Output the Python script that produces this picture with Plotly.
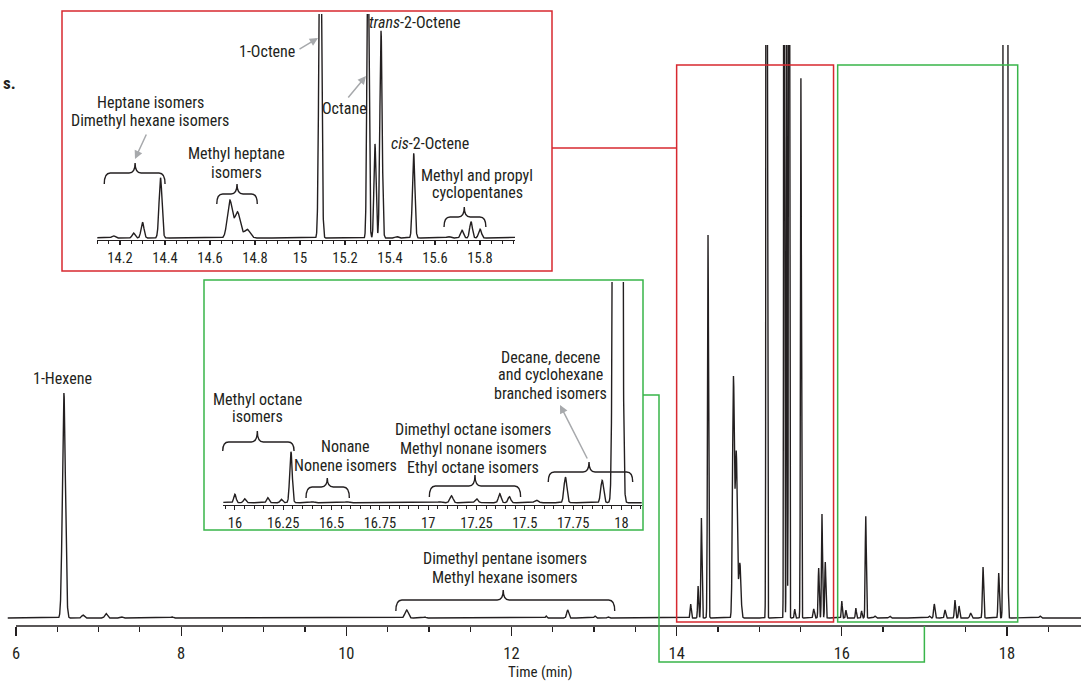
import numpy as np
import plotly.graph_objects as go

# ---------------- data ----------------
# retention time (min), peak height (main-chart intensity units), peak sigma (min)
peak_time = [6.58, 6.81, 7.09, 7.28, 7.89, 10.73, 10.95, 12.42, 12.68, 13.01, 13.17,
             14.17, 14.26, 14.30, 14.38, 14.688, 14.722, 14.765,
             15.09, 15.302, 15.333, 15.360, 15.43, 15.505,
             15.66, 15.72, 15.76, 15.80,
             16.00, 16.05, 16.17, 16.24, 16.29, 16.40, 16.58,
             17.06, 17.12, 17.25, 17.37, 17.42, 17.56,
             17.71, 17.90, 17.98, 18.40]
peak_height = [225, 3, 4.5, 1.2, 1.2, 8, 1, 2, 8, 2, 1.2,
               14, 32, 100, 383, 239, 165, 55,
               2500, 2000, 600, 1320, 9, 540,
               9, 50, 104, 56,
               17, 8, 10, 7, 102, 2, 2,
               2, 14, 8, 18, 12, 5,
               51, 45, 20000, 2]
peak_sigma = [0.018, 0.015, 0.015, 0.012, 0.012, 0.02, 0.012, 0.008, 0.012, 0.01, 0.01,
              0.007, 0.006, 0.0065, 0.0065, 0.011, 0.012, 0.013,
              0.0055, 0.0045, 0.0045, 0.005, 0.006, 0.0055,
              0.008, 0.0065, 0.006, 0.0065,
              0.006, 0.006, 0.006, 0.006, 0.0065, 0.01, 0.01,
              0.01, 0.008, 0.008, 0.007, 0.007, 0.01,
              0.0075, 0.0075, 0.0103, 0.01]

main_ticks = [6, 8, 10, 12, 14, 16, 18]

# ---------------- geometry ----------------
W, H = 1081, 686
BOT = 626  # pixel row of the paper bottom (main x axis)
INK = '#231f20'
RED = '#d7282f'
GREEN = '#39b54a'
GRAY = '#a7a9ac'
FONT = "Liberation Sans Narrow, Roboto Condensed, Liberation Sans, Arial Narrow, sans-serif"


def pxx(x):
    return x / W


def pxy(y):
    return (BOT - y) / BOT


# main axis: 6 min at x=16 px, 82.58 px per min
M_PPM, M_X6 = 82.58, 16.0
main_range = [6 - M_X6 / M_PPM, 6 + (W - M_X6) / M_PPM]
# red inset axis
R_X0, R_X1, R_T0, R_PPM = 97.3, 515.0, 14.099, 225.0
red_range = [R_T0, R_T0 + (R_X1 - R_X0) / R_PPM]
# green inset axis
G_X0, G_X1, G_T0, G_PPM = 223.3, 641.7, 15.94, 193.3
green_range = [G_T0, G_T0 + (G_X1 - G_X0) / G_PPM]


def main_x(t):
    return M_X6 + (t - 6) * M_PPM


def red_x(t):
    return R_X0 + (t - R_T0) * R_PPM


def green_x(t):
    return G_X0 + (t - G_T0) * G_PPM


def signal(t):
    y = np.zeros_like(t)
    for c, h, s in zip(peak_time, peak_height, peak_sigma):
        y += h * np.exp(-0.5 * ((t - c) / s) ** 2)
    return y


t_main = np.arange(5.90, 18.90, 0.0008)
t_red = np.arange(14.05, 16.0, 0.0004)
t_green = np.arange(15.90, 18.15, 0.0004)

fig = go.Figure()
line = dict(color=INK, width=1.4)
fig.add_trace(go.Scatter(x=np.round(t_main, 4), y=np.round(signal(t_main), 3), mode='lines',
                         line=line, xaxis='x', yaxis='y', hoverinfo='skip'))
fig.add_trace(go.Scatter(x=np.round(t_red, 4), y=np.round(signal(t_red), 3), mode='lines',
                         line=line, xaxis='x2', yaxis='y2', hoverinfo='skip'))
fig.add_trace(go.Scatter(x=np.round(t_green, 4), y=np.round(signal(t_green), 3), mode='lines',
                         line=line, xaxis='x3', yaxis='y3', hoverinfo='skip'))

shapes = []


def brace(x0, x1, xm, ytop, yend, ytip, r=6):
    pts = [(x0, yend), (x0, ytop), (x0 + r, ytop), (xm - r, ytop), (xm, ytop), (xm, ytip),
           (xm, ytop), (xm + r, ytop), (x1 - r, ytop), (x1, ytop), (x1, yend)]
    p = [(pxx(a), pxy(b)) for a, b in pts]
    path = (f"M {p[0][0]},{p[0][1]} Q {p[1][0]},{p[1][1]} {p[2][0]},{p[2][1]} "
            f"L {p[3][0]},{p[3][1]} Q {p[4][0]},{p[4][1]} {p[5][0]},{p[5][1]} "
            f"Q {p[6][0]},{p[6][1]} {p[7][0]},{p[7][1]} L {p[8][0]},{p[8][1]} "
            f"Q {p[9][0]},{p[9][1]} {p[10][0]},{p[10][1]}")
    shapes.append(dict(type='path', path=path, xref='paper', yref='paper',
                       line=dict(color=INK, width=1.4)))


def rect_px(x0, y0, x1, y1, color):
    shapes.append(dict(type='rect', xref='paper', yref='paper', x0=pxx(x0), x1=pxx(x1),
                       y0=pxy(y1), y1=pxy(y0), line=dict(color=color, width=1.5)))


def poly_px(points, color):
    path = "M " + " L ".join(f"{pxx(a)},{pxy(b)}" for a, b in points)
    shapes.append(dict(type='path', path=path, xref='paper', yref='paper',
                       line=dict(color=color, width=1.5)))


# main axis line (starts at 6 min)
shapes.append(dict(type='line', xref='x', yref='paper', x0=6, x1=main_range[1], y0=0, y1=0,
                   line=dict(color=INK, width=1.3)))
# highlight rectangles on main chart (data coordinates)
shapes.append(dict(type='rect', xref='x', yref='y', x0=14.0, x1=15.90, y0=-4, y1=553,
                   line=dict(color=RED, width=1.5)))
shapes.append(dict(type='rect', xref='x', yref='y', x0=15.95, x1=18.13, y0=-4, y1=553,
                   line=dict(color=GREEN, width=1.5)))
# inset frames
rect_px(62, 11, 552, 271, RED)
rect_px(204, 280, 643, 530, GREEN)
# connectors
poly_px([(552, 148), (main_x(14.0), 148)], RED)
poly_px([(643, 395), (659, 395), (659, 662), (main_x(17.0), 662), (main_x(17.0), BOT)], GREEN)

# braces
brace(main_x(10.60), main_x(13.25), main_x(11.90), 600, 611, 590)
brace(red_x(14.13), red_x(14.40), red_x(14.267), 173, 184, 163)
brace(red_x(14.63), red_x(14.81), red_x(14.72), 194, 204, 184)
brace(red_x(15.64), red_x(15.826), red_x(15.73), 217, 227, 207)
brace(green_x(15.937), green_x(16.306), green_x(16.116), 442, 451, 431)
brace(green_x(16.368), green_x(16.592), green_x(16.478), 487, 498, 478)
brace(green_x(17.006), green_x(17.478), green_x(17.242), 486, 497, 475)
brace(green_x(17.621), green_x(18.058), green_x(17.832), 472, 482, 462)

ann = []


def text(s, x, y, size=16, xanchor='center', **kw):
    ann.append(dict(text=s, x=pxx(x), y=pxy(y), xref='paper', yref='paper', showarrow=False,
                    xanchor=xanchor, yanchor='middle', font=dict(size=size, color=INK, family=FONT), **kw))


def arrow(tip, tail):
    ann.append(dict(text='', x=pxx(tip[0]), y=pxy(tip[1]), xref='paper', yref='paper',
                    ax=tail[0] - tip[0], ay=tail[1] - tip[1], axref='pixel', ayref='pixel',
                    showarrow=True, arrowhead=2, arrowsize=1.1, arrowwidth=1.5, arrowcolor=GRAY))


text('<b>s.</b>', 1, 83, size=17, xanchor='left')
text('1-Hexene', 62, 378)
text('Dimethyl pentane isomers', 505, 558)
text('Methyl hexane isomers', 505, 577)
text('Time (min)', 540, 672, size=15)

text('Heptane isomers', 150, 102)
text('Dimethyl hexane isomers', 150, 120)
text('Methyl heptane', 236, 153)
text('isomers', 236, 172)
text('1-Octene', 267, 52)
text('<i>trans</i>-2-Octene', 414, 22)
text('Octane', 344, 108)
text('<i>cis</i>-2-Octene', 430, 143)
text('Methyl and propyl', 477, 175)
text('cyclopentanes', 477, 193)

text('Methyl octane', 257, 399)
text('isomers', 257, 417)
text('Nonane', 345, 446)
text('Nonene isomers', 345, 465)
text('Dimethyl octane isomers', 473, 430)
text('Methyl nonane isomers', 473, 448)
text('Ethyl octane isomers', 473, 467)
text('Decane, decene', 550, 357)
text('and cyclohexane', 550, 374)
text('branched isomers', 550, 393)

arrow((135, 159), (147, 133))
arrow((318, 38), (298, 50))
arrow((366, 76), (347, 99))
arrow((560, 405), (588, 460))

axis_common = dict(showgrid=False, zeroline=False, ticks='outside', tickcolor=INK,
                   fixedrange=True)

fig.update_layout(
    width=W, height=H, autosize=False,
    margin=dict(l=0, r=0, t=0, b=H - BOT, pad=0),
    paper_bgcolor='white', plot_bgcolor='rgba(0,0,0,0)',
    showlegend=False,
    font=dict(family=FONT, color=INK),
    xaxis=dict(domain=[0, 1], range=main_range, anchor='y', showline=False,
               tickmode='array', tickvals=main_ticks, ticktext=[str(v) for v in main_ticks],
               ticklen=9, tickwidth=1.3, ticklabelstandoff=3,
               minor=dict(dtick=0.5, tick0=6, ticklen=5, tickwidth=1.2, ticks='outside', tickcolor=INK),
               tickfont=dict(size=16.5, color=INK, family=FONT), **axis_common),
    yaxis=dict(domain=[0, pxy(45)], range=[-8, 573], visible=False, anchor='x', fixedrange=True),
    xaxis2=dict(domain=[pxx(R_X0), pxx(R_X1)], range=red_range, anchor='y2',
                showline=True, linecolor=INK, linewidth=1.2,
                tick0=14.0, dtick=0.2, ticklen=4, tickwidth=1.1,
                minor=dict(dtick=0.05, tick0=14.0, ticklen=2.5, tickwidth=1, ticks='outside', tickcolor=INK),
                tickfont=dict(size=14.5, color=INK, family=FONT), **axis_common),
    yaxis2=dict(domain=[pxy(240), pxy(14)], range=[-12.7, 1427], visible=False, anchor='x2', fixedrange=True),
    xaxis3=dict(domain=[pxx(G_X0), pxx(G_X1)], range=green_range, anchor='y3',
                showline=True, linecolor=INK, linewidth=1.2,
                tick0=16.0, dtick=0.25, ticklen=4, tickwidth=1.1,
                minor=dict(dtick=0.05, tick0=16.0, ticklen=2.5, tickwidth=1, ticks='outside', tickcolor=INK),
                tickfont=dict(size=14.5, color=INK, family=FONT), **axis_common),
    yaxis3=dict(domain=[pxy(505), pxy(282)], range=[-4.6, 441.4], visible=False, anchor='x3', fixedrange=True),
    shapes=shapes,
    annotations=ann,
)

fig.write_html("out.html", include_plotlyjs=True,
               config={'displayModeBar': False, 'staticPlot': True},
               post_script="document.body.style.margin='0';document.body.style.padding='0';")
